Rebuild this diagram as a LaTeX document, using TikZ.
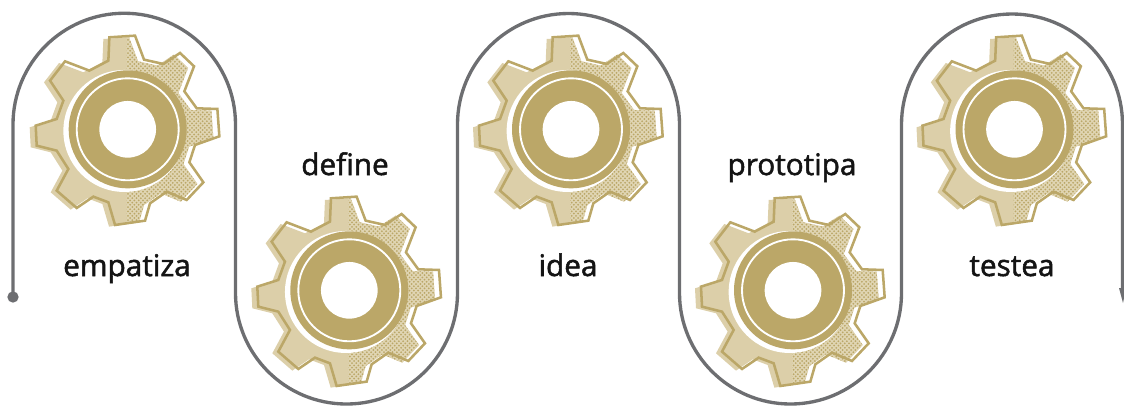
\documentclass[tikz,border=0pt]{standalone}
\usepackage{fontspec}
\setmainfont{Open Sans}[FakeBold=1.7]
\usetikzlibrary{patterns}
\definecolor{gold}{HTML}{BBA768}
\definecolor{goldlight}{HTML}{DCCFA9}
\definecolor{goldbase}{HTML}{E0D5B3}
\definecolor{linegray}{HTML}{6D6E71}
\pgfdeclarepatternformonly{gdots}{\pgfqpoint{-1pt}{-1pt}}{\pgfqpoint{4pt}{4pt}}{\pgfqpoint{3.2pt}{3.3pt}}{%
  \pgfpathcircle{\pgfqpoint{0pt}{0pt}}{.75pt}%
  \pgfpathcircle{\pgfqpoint{1.6pt}{1.65pt}}{.75pt}%
  \pgfusepath{fill}}
\newcommand{\gearshape}{(243,25)--(320,20)--(347,92)--(405,105)--(455,72)--(497,112)--(468,187)--(505,238)--(567,240)--(573,322)--(500,348)--(483,400)--(525,460)--(475,513)--(415,488)--(365,523)--(350,575)--(260,588)--(240,520)--(195,503)--(145,537)--(85,485)--(120,420)--(85,365)--(25,350)--(22,290)--(85,270)--(105,215)--(65,155)--(110,97)--(183,125)--(240,95)--cycle}
\tikzset{
  gearoutline/.style={draw=gold,line width=1.9pt,line join=miter},
  route/.style={draw=linegray,line width=2.5pt},
  steplabel/.style={anchor=base,font=\fontsize{22.3}{26}\selectfont,text=black!92,inner sep=0pt},
  pics/gear/.style={code={
    \begin{scope}[x=.25pt,y=-.25pt,shift={(-298,-301)}]
      \fill[goldlight,shift={(-18,5)}] \gearshape;
      \begin{scope}
        \clip (295,0) rectangle (640,620);
        \fill[goldbase,shift={(-18,5)}] \gearshape;
        \fill[pattern=gdots,pattern color=gold,shift={(-18,5)}] \gearshape;
      \end{scope}
      \fill[white] (288,306) circle[radius=183];
      \path[gearoutline] \gearshape;
      \fill[gold] (298,301) circle[radius=177];
      \draw[white,line width=1.4pt] (298,301) circle[radius=153];
      \fill[white] (298,301) circle[radius=85];
    \end{scope}
  }}
}
\begin{document}
\begin{tikzpicture}[x=.75pt,y=-.75pt]
\useasboundingbox (0,0) rectangle (1124,405);
\path (127.7,129.3) pic {gear};
\path (349.3,290.3) pic {gear};
\path (571,129.3) pic {gear};
\path (793,290.3) pic {gear};
\path (1014.5,129.3) pic {gear};
\node[circle,fill=linegray,minimum size=8.5pt,inner sep=0pt] (start) at (13,297) {};
\coordinate (finish) at (1122.5,290);
\draw[route] (start.center) -- (13,124.5)
  arc[start angle=180,end angle=360,radius=111.25] -- (235.5,293)
  arc[start angle=180,end angle=0,radius=111] -- (457.5,124.5)
  arc[start angle=180,end angle=360,radius=111] -- (679.5,293)
  arc[start angle=180,end angle=0,radius=111] -- (901.5,124.5)
  arc[start angle=180,end angle=360,radius=110.5] -- (finish);
\fill[linegray] (1119,288) -- (1126,288) -- (1123,303) -- cycle;
\node[steplabel] (l1) at (127,276) {empatiza};
\node[steplabel] (l2) at (345,175) {define};
\node[steplabel] (l3) at (568,276) {idea};
\node[steplabel] (l4) at (792,175) {prototipa};
\node[steplabel] (l5) at (1012,276) {testea};
\end{tikzpicture}
\end{document}
